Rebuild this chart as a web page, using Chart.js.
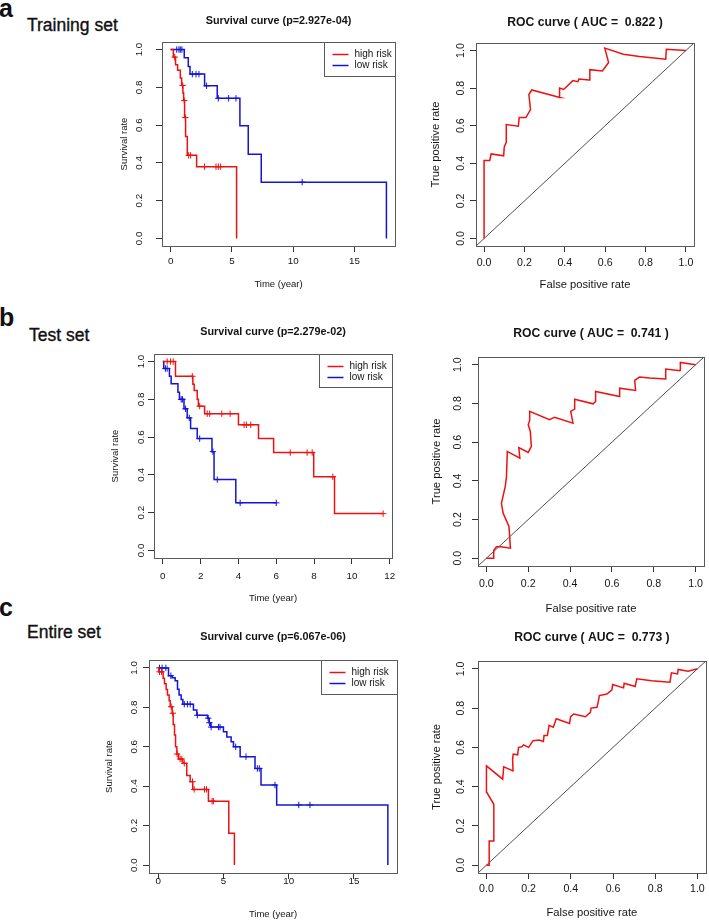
<!DOCTYPE html>
<html>
<head>
<meta charset="utf-8">
<script src="https://cdn.jsdelivr.net/npm/chart.js@4.4.1/dist/chart.umd.min.js"></script>
<style>
  html, body { margin: 0; padding: 0; background: #fff; }
  body { width: 709px; height: 921px; position: relative; overflow: hidden;
         font-family: "Liberation Sans", Arial, sans-serif; color: #111; }
  canvas { position: absolute; }
  .tag { position: absolute; font-weight: bold; font-size: 25px; line-height: 25px; }
  .set { position: absolute; font-size: 17.5px; line-height: 17.5px; -webkit-text-stroke: 0.35px #111; }
</style>
</head>
<body>
<div class="tag" style="left:-1px;top:-4px">a</div>
<div class="set" style="left:27px;top:17px">Training set</div>
<div class="tag" style="left:-1px;top:305px">b</div>
<div class="set" style="left:29px;top:327px">Test set</div>
<div class="tag" style="left:-1px;top:595px">c</div>
<div class="set" style="left:27px;top:624px">Entire set</div>

<canvas id="survA"></canvas>
<canvas id="rocA"></canvas>
<canvas id="survB"></canvas>
<canvas id="rocB"></canvas>
<canvas id="survC"></canvas>
<canvas id="rocC"></canvas>

<script>
// ---- Kaplan-Meier curves: [time (year), survival] ----
const trainHigh = [[0, 1], [0.22, 0.96], [0.4, 0.92], [0.57, 0.89], [0.79, 0.85], [0.9, 0.81], [1.0, 0.77],
  [1.06, 0.73], [1.14, 0.64], [1.22, 0.54], [1.36, 0.44], [2.12, 0.38], [5.38, 0]];
const trainHighCens = [0.33, 0.98, 1.11, 1.2, 1.47, 1.63, 2.77, 3.7, 3.89, 4.08];
const trainLow = [[0, 1], [1.11, 0.956], [1.44, 0.91], [1.58, 0.87], [2.77, 0.808], [3.8, 0.742],
  [5.65, 0.597], [6.33, 0.446], [7.39, 0.298], [17.6, 0]];
const trainLowCens = [0.5, 0.68, 0.79, 0.92, 1.77, 2.07, 2.31, 2.93, 3.89, 4.73, 5.33, 10.73];

const testHigh = [[0, 1], [0.67, 0.922], [1.59, 0.88], [1.66, 0.847], [1.82, 0.8], [1.88, 0.764], [2.21, 0.724],
  [4.0, 0.665], [5.06, 0.592], [5.86, 0.518], [7.98, 0.39], [9.08, 0.195], [11.65, 0.195]];
const testHighCens = [0.23, 0.41, 0.55, 1.56, 1.95, 2.35, 2.48, 3.12, 3.56, 4.3, 4.42, 4.65, 6.74, 7.63, 7.9, 8.99, 11.65];
const testLow = [[0, 1], [0.05, 0.963], [0.35, 0.922], [0.44, 0.882], [0.8, 0.838], [0.88, 0.8], [1.12, 0.75],
  [1.29, 0.702], [1.47, 0.646], [1.82, 0.592], [2.6, 0.523], [2.71, 0.375], [3.86, 0.252], [6.0, 0.252]];
const testLowCens = [0.14, 0.23, 0.97, 1.04, 1.2, 1.4, 1.95, 2.65, 2.88, 4.09, 6.0];

const entireHigh = [[0, 1], [0.05, 0.98], [0.38, 0.948], [0.48, 0.92], [0.61, 0.89], [0.71, 0.862], [0.84, 0.833],
  [0.92, 0.803], [1.07, 0.77], [1.15, 0.713], [1.25, 0.66], [1.33, 0.6], [1.43, 0.563], [1.56, 0.538],
  [1.89, 0.516], [2.19, 0.455], [2.45, 0.423], [2.65, 0.384], [3.85, 0.324], [5.41, 0.162], [5.84, 0]];
const entireHighCens = [0.1, 0.26, 1.0, 1.12, 1.45, 1.68, 1.81, 2.0, 2.63, 2.76, 3.55, 3.7, 4.13, 4.23];
const entireLow = [[0, 1], [0.79, 0.96], [1.07, 0.95], [1.3, 0.935], [1.48, 0.892], [1.6, 0.862], [1.76, 0.84],
  [1.89, 0.816], [2.7, 0.786], [2.96, 0.76], [3.78, 0.745], [3.9, 0.722], [4.03, 0.7], [5.0, 0.676],
  [5.26, 0.65], [5.59, 0.626], [5.77, 0.6], [6.28, 0.55], [7.42, 0.49], [7.88, 0.406], [9.08, 0.305], [17.6, 0]];
const entireLowCens = [0.1, 0.3, 0.59, 0.97, 2.0, 2.24, 2.45, 3.0, 3.83, 3.93, 4.06, 4.62, 4.74, 5.94, 6.73,
  7.6, 7.75, 8.95, 10.77, 11.63];

// ---- ROC curves: [false positive rate, true positive rate] ----
const rocTrain = [[0, 0], [0, 0.415], [0.028, 0.415], [0.035, 0.45], [0.097, 0.44], [0.1, 0.487], [0.11, 0.513],
  [0.11, 0.606], [0.17, 0.597], [0.174, 0.643], [0.207, 0.643], [0.23, 0.686], [0.222, 0.766], [0.236, 0.79],
  [0.376, 0.75], [0.374, 0.8], [0.394, 0.793], [0.44, 0.84], [0.465, 0.834], [0.47, 0.848], [0.52, 0.843],
  [0.524, 0.898], [0.586, 0.891], [0.617, 0.936], [0.598, 1.013], [0.69, 0.98], [0.77, 0.968], [0.9, 0.954],
  [0.903, 1.007], [1.0, 1.0]];
const rocTest = [[0, 0], [0.032, 0], [0.035, 0.04], [0.048, 0.06], [0.07, 0.06], [0.115, 0.052], [0.108, 0.164],
  [0.08, 0.233], [0.072, 0.284], [0.09, 0.37], [0.096, 0.42], [0.1, 0.552], [0.16, 0.517], [0.155, 0.572],
  [0.2, 0.547], [0.215, 0.578], [0.21, 0.655], [0.2, 0.69], [0.207, 0.712], [0.207, 0.759], [0.302, 0.716],
  [0.326, 0.729], [0.414, 0.698], [0.403, 0.759], [0.422, 0.771], [0.422, 0.822], [0.51, 0.798], [0.522, 0.81],
  [0.522, 0.862], [0.637, 0.836], [0.637, 0.879], [0.713, 0.867], [0.709, 0.919], [0.732, 0.936], [0.78, 0.931],
  [0.857, 0.926], [0.857, 0.978], [0.928, 0.969], [0.927, 1.012], [1.0, 1.0]];
const rocEntire = [[0, 0], [0.013, 0], [0.013, 0.123], [0.035, 0.123], [0.035, 0.31], [0.002, 0.37], [0, 0.506],
  [0.077, 0.438], [0.082, 0.501], [0.126, 0.48], [0.124, 0.54], [0.127, 0.566], [0.148, 0.562], [0.152, 0.6],
  [0.168, 0.603], [0.176, 0.613], [0.2, 0.6], [0.221, 0.634], [0.25, 0.637], [0.27, 0.63], [0.273, 0.66],
  [0.289, 0.66], [0.297, 0.712], [0.317, 0.703], [0.331, 0.746], [0.394, 0.722], [0.399, 0.756], [0.414, 0.77],
  [0.469, 0.756], [0.493, 0.778], [0.496, 0.8], [0.524, 0.804], [0.532, 0.842], [0.535, 0.864], [0.571, 0.872],
  [0.595, 0.893], [0.598, 0.92], [0.65, 0.903], [0.653, 0.927], [0.705, 0.91], [0.713, 0.949], [0.783, 0.94],
  [0.87, 0.932], [0.877, 0.98], [0.906, 0.974], [0.909, 0.997], [0.956, 0.988], [1.0, 1.0]];

const survTitles = ["Survival curve (p=2.927e-04)", "Survival curve (p=2.279e-02)", "Survival curve (p=6.067e-06)"];
const aucValues = ["0.822", "0.741", "0.773"];
const riskLabels = ["high risk", "low risk"];
const yearTicksLong = [0, 5, 10, 15];
const yearTicksShort = [0, 2, 4, 6, 8, 10, 12];
const rateTicks = [0, 0.2, 0.4, 0.6, 0.8, 1.0];
const diagonal = [-0.04, 1.04];

const fontFam = '"Liberation Sans", Arial, sans-serif';
const RED = "#ee1111";
const BLUE = "#1414d6";
const INK = "#141414";

// R style box around the plot region, plus the boxed legend at top right
const rFrame = {
  id: "rFrame",
  afterDraw(chart, args, opts) {
    const { ctx, chartArea: a } = chart;
    ctx.save();
    ctx.strokeStyle = "#5a5a5a";
    ctx.lineWidth = 1;
    const L = Math.round(a.left) + 0.5, T = Math.round(a.top) + 0.5;
    const R = Math.round(a.right) + 0.5, B = Math.round(a.bottom) + 0.5;
    ctx.strokeRect(L, T, R - L, B - T);
    if (opts.legend) {
      const items = chart.data.datasets.filter(d => d.label);
      const lw = opts.legend.w, lh = opts.legend.h;
      const lx = R - lw;
      ctx.strokeRect(lx, T, lw, lh);
      ctx.font = "10px " + fontFam;
      ctx.textBaseline = "middle";
      items.forEach((d, i) => {
        const y = Math.round(T + 11 + i * 11.5) + 0.5;
        ctx.strokeStyle = d.borderColor;
        ctx.lineWidth = 1.5;
        ctx.beginPath();
        ctx.moveTo(lx + 8, y);
        ctx.lineTo(lx + 24, y);
        ctx.stroke();
        ctx.fillStyle = INK;
        ctx.fillText(d.label, lx + 30, y);
      });
    }
    ctx.restore();
  }
};
Chart.register(rFrame);

const measure = document.createElement("canvas").getContext("2d");
function textW(txt, size) {
  measure.font = size + "px " + fontFam;
  return measure.measureText(txt).width;
}

function stepAt(curve, t) {
  let s = curve[0][1];
  curve.forEach(p => { if (p[0] <= t) s = p[1]; });
  return s;
}

function kmDatasets(high, highCens, low, lowCens) {
  const line = (c, label, color) => ({
    label, data: c.map(p => ({ x: p[0], y: p[1] })), borderColor: color, borderWidth: 1.5,
    stepped: "before", pointRadius: 0, fill: false
  });
  const marks = (ts, c, color) => ({
    label: "", data: ts.map(t => ({ x: t, y: stepAt(c, t) })), showLine: false,
    pointStyle: "cross", pointRadius: 3.2, borderColor: color, borderWidth: 1
  });
  return [line(high, riskLabels[0], RED), line(low, riskLabels[1], BLUE),
    marks(highCens, high, RED), marks(lowCens, low, BLUE)];
}

function rocDatasets(curve) {
  return [
    { label: "", data: curve.map(p => ({ x: p[0], y: p[1] })), borderColor: RED, borderWidth: 1.5,
      pointRadius: 0, tension: 0, fill: false },
    { label: "", data: diagonal.map(v => ({ x: v, y: v })), borderColor: "#222", borderWidth: 0.8,
      pointRadius: 0, fill: false }
  ];
}

function build(id, cfg, datasets) {
  const el = document.getElementById(id);
  const cv = cfg.canvas, b = cfg.box;
  el.style.left = cv[0] + "px";
  el.style.top = cv[1] + "px";
  el.width = cv[2];
  el.height = cv[3];
  const tLh = cfg.titleSize * 1.2, aLh = cfg.axisSize * 1.2;
  const yW = b[0] - cv[0];
  const xH = cfg.xTitleY + aLh / 2 - b[3];
  const widest = textW("0.0", cfg.tickSize);
  const tickFont = { family: fontFam, size: cfg.tickSize };
  const axisFont = { family: fontFam, size: cfg.axisSize };
  const grid = { drawOnChartArea: false, drawTicks: true, tickLength: cfg.tl, color: "#333" };
  return new Chart(el, {
    type: "line",
    data: { datasets },
    options: {
      responsive: false,
      animation: false,
      events: [],
      layout: { padding: { left: 0, top: 0, right: cv[0] + cv[2] - b[2], bottom: cv[1] + cv[3] - b[3] - xH } },
      plugins: {
        legend: { display: false },
        tooltip: { enabled: false },
        title: {
          display: true, text: cfg.title, fullSize: false, color: INK,
          font: { family: fontFam, size: cfg.titleSize, weight: "bold" },
          padding: { top: cfg.titleY - cv[1] - tLh / 2, bottom: b[1] - cfg.titleY - tLh / 2 }
        },
        rFrame: { legend: cfg.legend || null }
      },
      scales: {
        x: {
          type: "linear", min: cfg.xMin, max: cfg.xMax,
          afterBuildTicks: s => { s.ticks = cfg.xTicks.map(v => ({ value: v })); },
          afterFit: s => { s.height = xH; },
          grid, border: { display: false },
          ticks: {
            font: tickFont, color: INK, autoSkip: false, maxRotation: 0,
            padding: cfg.xLabY - b[3] - cfg.tl - cfg.tickSize * 0.6,
            callback: cfg.xFmt
          },
          title: { display: true, text: cfg.xTitle, color: INK, font: axisFont, padding: 0 }
        },
        y: {
          type: "linear", min: -0.04, max: 1.04,
          afterBuildTicks: s => { s.ticks = rateTicks.map(v => ({ value: v })); },
          afterFit: s => { s.width = yW; },
          grid, border: { display: false },
          ticks: {
            font: tickFont, color: INK, autoSkip: false, minRotation: 90, maxRotation: 90,
            crossAlign: "center",
            padding: b[0] - cfg.yLabX - cfg.tl - widest / 2,
            callback: v => v.toFixed(1)
          },
          title: {
            display: true, text: cfg.yTitle, color: INK, font: axisFont,
            padding: { top: cfg.yTitleX - cv[0] - aLh / 2, bottom: 0 }
          }
        }
      }
    }
  });
}

const survBase = {
  tickSize: 9.8, axisSize: 9.5, titleSize: 10.8, tl: 6,
  xTitle: "Time (year)", yTitle: "Survival rate", xFmt: v => String(v)
};
const rocBase = {
  tickSize: 10.6, axisSize: 11.2, titleSize: 12.2, tl: 6,
  xTitle: "False positive rate", yTitle: "True positive rate", xFmt: v => v.toFixed(1),
  xMin: -0.04, xMax: 1.04, xTicks: rateTicks
};

build("survA", Object.assign({}, survBase, {
  canvas: [100, 0, 305, 305], box: [162, 42, 395, 246], title: survTitles[0],
  titleY: 21, xTitleY: 284, yTitleX: 124, xLabY: 261, yLabX: 139,
  xMin: -0.704, xMax: 18.3, xTicks: yearTicksLong, legend: { w: 71, h: 34 }
}), kmDatasets(trainHigh, trainHighCens, trainLow, trainLowCens));

build("survB", Object.assign({}, survBase, {
  canvas: [100, 300, 305, 315], box: [154, 354, 392, 558], title: survTitles[1],
  titleY: 332, xTitleY: 598, yTitleX: 115, xLabY: 576.5, yLabX: 141,
  xMin: -0.466, xMax: 12.12, xTicks: yearTicksShort, legend: { w: 73, h: 33 }
}), kmDatasets(testHigh, testHighCens, testLow, testLowCens));

build("survC", Object.assign({}, survBase, {
  canvas: [100, 605, 305, 316], box: [149, 660, 397, 873], title: survTitles[2],
  titleY: 637, xTitleY: 914, yTitleX: 109, xLabY: 881.5, yLabX: 134,
  xMin: -0.704, xMax: 18.3, xTicks: yearTicksLong, legend: { w: 76, h: 34 }
}), kmDatasets(entireHigh, entireHighCens, entireLow, entireLowCens));

build("rocA", Object.assign({}, rocBase, {
  canvas: [405, 0, 304, 305], box: [476, 43, 694, 246], title: "ROC curve ( AUC =  " + aucValues[0] + " )",
  titleY: 23, xTitleY: 285, yTitleX: 436, xLabY: 263, yLabX: 461
}), rocDatasets(rocTrain));

build("rocB", Object.assign({}, rocBase, {
  canvas: [405, 300, 304, 315], box: [478, 357, 704, 566], title: "ROC curve ( AUC =  " + aucValues[1] + " )",
  titleY: 334, xTitleY: 609, yTitleX: 437, xLabY: 584, yLabX: 458
}), rocDatasets(rocTest));

build("rocC", Object.assign({}, rocBase, {
  canvas: [405, 605, 304, 316], box: [478, 661, 708, 873], title: "ROC curve ( AUC =  " + aucValues[2] + " )",
  titleY: 638, xTitleY: 913, yTitleX: 437, xLabY: 889.5, yLabX: 461
}), rocDatasets(rocEntire));
</script>
</body>
</html>
